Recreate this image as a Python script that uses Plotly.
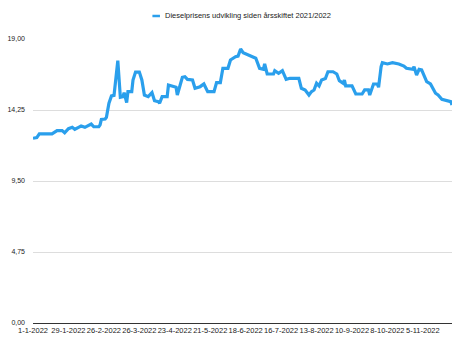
import plotly.graph_objects as go
import pandas as pd

series_name = "Dieselprisens udvikling siden årsskiftet 2021/2022"

day_offsets = [0, 3, 5, 15, 19, 23, 25, 28, 31, 33, 36, 38, 41, 44, 46, 48, 52, 53, 54, 57,
               58, 60, 62, 64, 67, 69, 71, 72, 74, 75, 78, 79, 81, 84, 86, 88, 91, 94, 96, 99,
               100, 102, 106, 107, 112, 113, 114, 116, 118, 120, 122, 126, 128, 132, 135, 138, 143, 145, 148, 150,
               154, 156, 160, 162, 164, 166, 170, 174, 176, 179, 182, 183, 185, 190, 191, 194, 197, 200, 203, 210,
               212, 215, 218, 220, 222, 224, 226, 228, 231, 233, 237, 240, 242, 245, 246, 247, 252, 255, 260, 262,
               265, 266, 269, 272, 273, 275, 276, 280, 284, 289, 293, 295, 300, 301, 303, 305, 307, 311, 314, 318,
               320, 323, 327, 330, 331]

prices = [12.36, 12.40, 12.65, 12.65, 12.87, 12.87, 12.73, 13.00, 13.09, 12.96, 13.09, 13.18, 13.09, 13.23, 13.31, 13.13, 13.13, 13.25, 13.62, 13.65,
          13.76, 14.70, 15.19, 15.23, 17.55, 15.10, 15.14, 15.41, 14.74, 15.48, 15.48, 16.26, 16.79, 16.79, 16.26, 15.25, 15.14, 15.41, 14.87, 14.81,
          14.70, 15.14, 15.14, 15.92, 15.81, 15.77, 15.25, 15.92, 16.44, 16.48, 16.30, 16.26, 15.70, 15.81, 15.99, 15.48, 15.48, 16.08, 16.08, 17.04,
          17.04, 17.60, 17.82, 17.86, 18.33, 18.08, 17.93, 17.78, 17.71, 17.04, 16.97, 17.33, 16.66, 16.66, 16.88, 16.71, 16.88, 16.30, 16.37, 16.37,
          15.70, 15.59, 15.25, 15.48, 15.59, 16.04, 15.86, 16.26, 16.35, 16.81, 16.81, 16.66, 16.21, 16.04, 16.26, 15.86, 15.86, 15.32, 15.32, 15.59,
          15.59, 15.25, 15.99, 15.99, 15.77, 17.15, 17.42, 17.33, 17.42, 17.33, 17.19, 17.04, 16.97, 17.15, 16.59, 16.97, 16.93, 16.14, 15.99, 15.37,
          15.25, 14.97, 14.87, 14.81, 14.59]

x_tick_dates = ["2022-01-01", "2022-01-29", "2022-02-26", "2022-03-26", "2022-04-23", "2022-05-21",
                "2022-06-18", "2022-07-16", "2022-08-13", "2022-09-10", "2022-10-08", "2022-11-05"]
x_tick_labels = ["1-1-2022", "29-1-2022", "26-2-2022", "26-3-2022", "23-4-2022", "21-5-2022",
                 "18-6-2022", "16-7-2022", "13-8-2022", "10-9-2022", "8-10-2022", "5-11-2022"]
y_tick_vals = [0, 4.75, 9.5, 14.25, 19]
y_tick_labels = ["0,00", "4,75", "9,50", "14,25", "19,00"]

line_color = "#2A9FEC"
text_color = "#222222"

start = pd.Timestamp("2022-01-01")
dates = [start + pd.Timedelta(days=d) for d in day_offsets]

fig = go.Figure()
fig.add_trace(go.Scatter(
    x=dates, y=prices, mode="lines", name=series_name,
    line=dict(color=line_color, width=3.2), showlegend=False,
))

font_family = "Liberation Sans, Arial, sans-serif"

# compact legend (short line sample + label) like the original chart
fig.add_shape(type="line", xref="paper", yref="paper",
              x0=0.285, x1=0.303, y0=1.081, y1=1.081,
              line=dict(color=line_color, width=2.5))
fig.add_annotation(text=series_name, xref="paper", yref="paper",
                   x=0.311, y=1.081, xanchor="left", yanchor="middle",
                   showarrow=False, font=dict(size=7.5, color=text_color))

fig.update_layout(
    width=468, height=352,
    margin=dict(l=33, r=16, t=39, b=29),
    paper_bgcolor="white", plot_bgcolor="white",
    font=dict(family=font_family, size=7, color=text_color),
    showlegend=False,
    xaxis=dict(
        type="date",
        range=[start, start + pd.Timedelta(days=331)],
        tickmode="array", tickvals=x_tick_dates, ticktext=x_tick_labels,
        tickangle=0, automargin=False,
        showgrid=False, zeroline=False,
        showline=True, linecolor="#333", linewidth=1,
        ticks="", tickfont=dict(size=7.5, color=text_color),
    ),
    yaxis=dict(
        range=[0, 19], automargin=False,
        tickmode="array", tickvals=y_tick_vals, ticktext=y_tick_labels,
        showgrid=True, gridcolor="#DDDDDD", gridwidth=1,
        zeroline=False, showline=False, ticks="",
        ticklabelstandoff=7,
        tickfont=dict(size=7, color=text_color),
    ),
)

fig.write_html("out.html")
